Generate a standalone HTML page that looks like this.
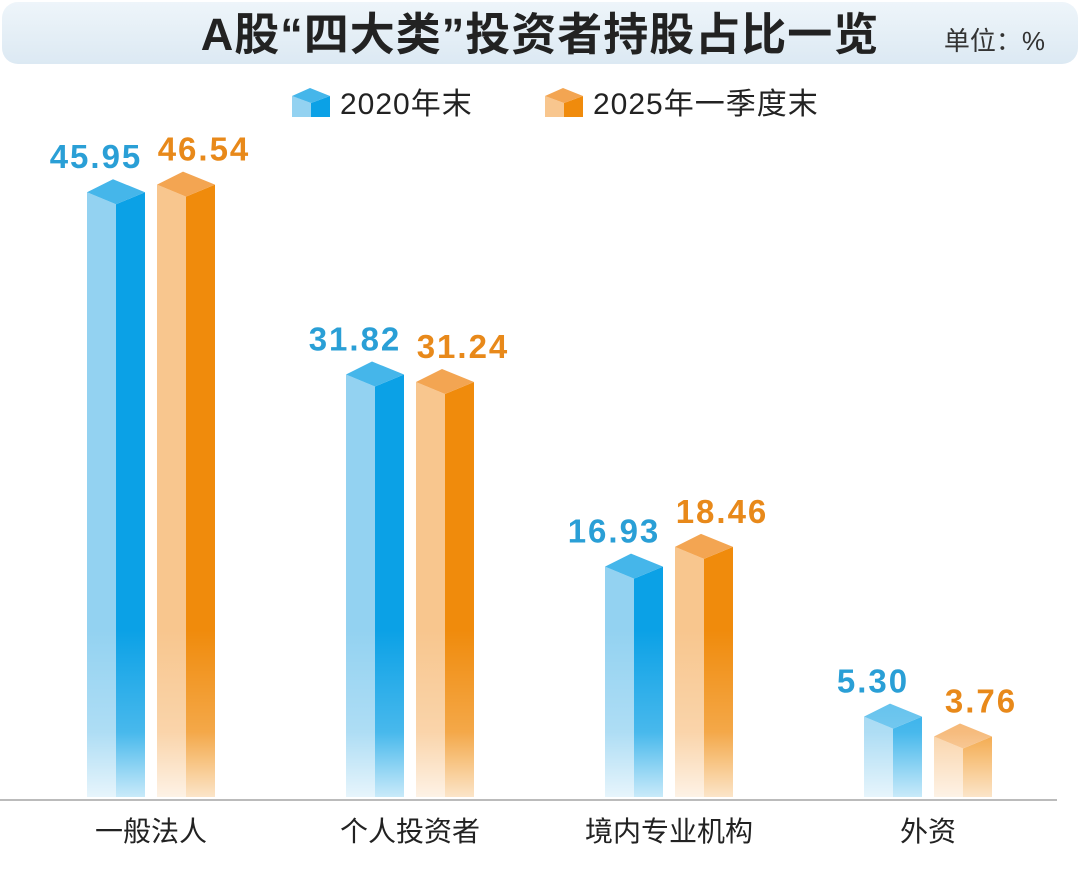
<!DOCTYPE html>
<html><head><meta charset="utf-8"><style>
body{margin:0;background:#fff;}
svg{display:block;font-family:"Liberation Sans","Noto Sans CJK SC",sans-serif;}
</style></head><body>
<svg id="chart" width="1080" height="869" viewBox="0 0 1080 869">
<defs>
<linearGradient id="tb" x1="0" y1="0" x2="0" y2="1"><stop offset="0" stop-color="#eef5fa"/><stop offset="1" stop-color="#dce9f3"/></linearGradient>
<linearGradient id="fade" gradientUnits="userSpaceOnUse" x1="0" y1="630" x2="0" y2="800"><stop offset="0" stop-color="#fff" stop-opacity="0"/><stop offset="0.6" stop-color="#fff" stop-opacity="0.25"/><stop offset="1" stop-color="#fff" stop-opacity="0.8"/></linearGradient>
</defs>
<rect x="2" y="2" width="1076" height="62" rx="16" fill="url(#tb)"/>
<text x="540" y="50" text-anchor="middle" font-size="45" font-weight="bold" fill="#222" letter-spacing="1">A股“四大类”投资者持股占比一览</text>
<text x="1045" y="50" text-anchor="end" font-size="26" fill="#333">单位：%</text>
<g id="legend"></g>
<g id="bars"></g>
<line x1="0" y1="800" x2="1057" y2="800" stroke="#bbb" stroke-width="2"/>
<g id="labels"></g>
</svg>
<script>
const categories=["一般法人","个人投资者","境内专业机构","外资"];
const series2020=[45.95,31.82,16.93,5.30];
const series2025=[46.54,31.24,18.46,3.76];
const seriesNames=["2020年末","2025年一季度末"];
const NS="http://www.w3.org/2000/svg";
const base=797,k=12.9,groupStart=151,groupStep=259,bw=58,gap=12;
const colors=[{l:"#93d2f1",d:"#0ba1e6",c:"#45b6ea",t:"#2a9fd6"},{l:"#f8c68e",d:"#f08b0c",c:"#f3a552",t:"#e8891a"}];
function y(v){return base-v*k;}
function xc(i){return groupStart+i*groupStep;}
function mk(tag,attrs,parent){const e=document.createElementNS(NS,tag);for(const a in attrs)e.setAttribute(a,attrs[a]);parent.appendChild(e);return e;}
const bars=document.getElementById('bars'),labels=document.getElementById('labels'),legend=document.getElementById('legend');
function cube(g,x,top,c,w){
  const h=w/2,cap=12;
  mk('polygon',{points:`${x},${top-cap} ${x+h},${top} ${x+h},${base} ${x},${base}`,fill:c.l},g);
  mk('polygon',{points:`${x+h},${top} ${x+w},${top-cap} ${x+w},${base} ${x+h},${base}`,fill:c.d},g);
  mk('polygon',{points:`${x},${top-cap} ${x+h-3},${top-2*cap-1} ${x+w},${top-cap} ${x+h},${top}`,fill:c.c},g);
}
[series2020,series2025].forEach((s,si)=>{
  s.forEach((v,i)=>{
    const x=si===0?xc(i)-gap/2-bw:xc(i)+gap/2;
    const top=y(v);
    const g=mk('g',{},bars);
    
    
    cube(g,x,top,colors[si],bw);
    mk('rect',{x:x,y:630,width:bw,height:base-630,fill:"url(#fade)"},g);
    const t=mk('text',{x:x+bw/2+(si===0?-20:18),y:top-36,'text-anchor':'middle','font-size':33,'font-weight':'bold','letter-spacing':2,fill:colors[si].t},labels);
    
    
    t.textContent=v.toFixed(2);
  });
});
categories.forEach((c,i)=>{
  const t=mk('text',{x:xc(i),y:841,'text-anchor':'middle','font-size':28,fill:'#222'},labels);
  
  
  t.textContent=c;
});
seriesNames.forEach((n,i)=>{
  const lx=[292,545][i];
  const g=mk('g',{},legend);
  
  
  const c=colors[i];
  mk('polygon',{points:`${lx},96 ${lx+19},103 ${lx+19},117 ${lx},117`,fill:c.l},g);
  mk('polygon',{points:`${lx+19},103 ${lx+38},96 ${lx+38},117 ${lx+19},117`,fill:c.d},g);
  mk('polygon',{points:`${lx},96 ${lx+18},88 ${lx+38},96 ${lx+19},103`,fill:c.c},g);
  const t=mk('text',{x:lx+48,y:114,'font-size':30,'letter-spacing':1,fill:'#222'},g);
  t.textContent=n;
});
</script>
</body></html>
